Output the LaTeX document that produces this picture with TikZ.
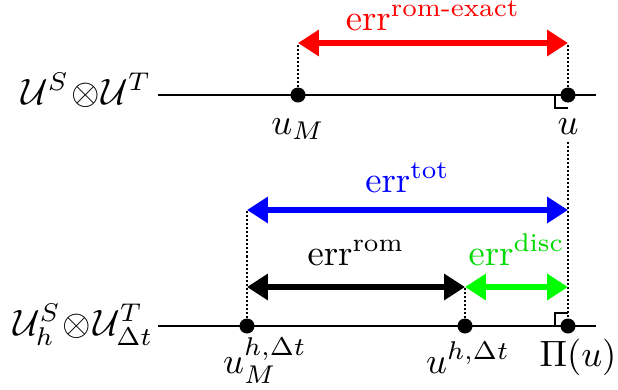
\documentclass[tikz,border=0pt]{standalone}
\usepackage{amsmath}
\usetikzlibrary{arrows.meta}
\definecolor{ered}{RGB}{255,0,0}
\definecolor{eblue}{RGB}{0,0,255}
\definecolor{egreen}{RGB}{0,255,0}
\begin{document}
\begin{tikzpicture}[x=0.273pt,y=-0.273pt,
  axis/.style={line width=0.8pt},
  pt/.style={circle,fill=black,inner sep=0pt,minimum size=4.1pt},
  guide/.style={line width=0.65pt,dash pattern=on 0.55pt off 0.55pt},
  errarrow/.style={line width=1.5pt,{Triangle[length=5.7pt,width=6.9pt]}-{Triangle[length=5.7pt,width=6.9pt]}},
  rightmark/.style={line width=0.7pt},
  lbl/.style={inner sep=0pt}]
\useasboundingbox (0,0) rectangle (618,389);
% axes
\coordinate (t0) at (158,95);
\coordinate (t1) at (596,95);
\coordinate (b0) at (158,326);
\coordinate (b1) at (596,326);
\draw[axis] (t0) -- (t1);
\draw[axis] (b0) -- (b1);
\node[lbl,anchor=base east] (topspace) at (152,104) {$\mathcal{U}^S\mskip1mu{\otimes}\mskip1mu\mathcal{U}^T$};
\node[lbl,anchor=base east] (botspace) at (154,335) {$\mathcal{U}_h^S\mskip1mu{\otimes}\mskip1mu\mathcal{U}_{\Delta t}^T$};
% arrow end coordinates
\coordinate (rL) at (298,43);
\coordinate (rR) at (568,43);
\coordinate (bL) at (247,210);
\coordinate (bR) at (568,210);
\coordinate (kL) at (247,287);
\coordinate (kM) at (465,287);
\coordinate (gR) at (568,287);
% points
\node[pt] (uM) at (298,95) {};
\node[pt] (u) at (568,95) {};
\node[pt] (uMh) at (247,326) {};
\node[pt] (uh) at (465,326) {};
\node[pt] (Pu) at (568,326) {};
% point labels
\node[lbl,anchor=base] (luM) at (298,134) {$u_M$};
\node[lbl,anchor=base] (lu) at (568,134) {$u$};
\node[lbl,anchor=base] (luMh) at (265,373) {$u_M^{h,\Delta t}$};
\node[lbl,anchor=base] (luh) at (468,373) {$u^{h,\Delta t}$};
\node[lbl,anchor=base] (lPu) at (578,366) {$\Pi(u)$};
% guides
\draw[guide] (uM.center) -- (rL);
\draw[guide] (u.center) -- (rR);
\draw[guide] ([yshift=-2pt]lu.south) -- (Pu.center);
\draw[guide] (uMh.center) -- (bL);
\draw[guide] (uh.center) -- (kM);
% right-angle marks
\draw[rightmark] (555,95) -- (555,108) -- (568,108);
\draw[rightmark] (555,326) -- (555,313) -- (568,313);
% error arrows
\draw[errarrow,ered] (rL) -- (rR);
\draw[errarrow,eblue] (bL) -- (bR);
\draw[errarrow,black] (kL) -- (kM);
\draw[errarrow,egreen] (kM) -- (gR);
% error labels
\node[lbl,anchor=base,text=ered] (lr) at (433,30) {$\mathrm{err}^{\text{rom-exact}}$};
\node[lbl,anchor=base,text=eblue] (lb) at (407.5,192) {$\mathrm{err}^{\text{tot}}$};
\node[lbl,anchor=base] (lk) at (356,265) {$\mathrm{err}^{\text{rom}}$};
\node[lbl,anchor=base,text=egreen!85!black] (lg) at (516.5,265) {$\mathrm{err}^{\text{disc}}$};
\end{tikzpicture}
\end{document}
